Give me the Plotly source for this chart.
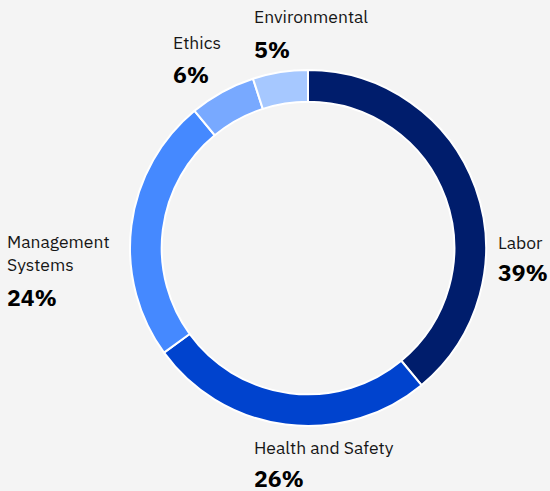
import plotly.graph_objects as go

# ESG audit findings share by category
categories = ["Labor", "Health and Safety", "Management Systems", "Ethics", "Environmental"]
display_names = ["Labor", "Health and Safety", "Management<br>Systems", "Ethics", "Environmental"]
shares = [39, 26, 24, 6, 5]
colors = ["#001d6c", "#0043ce", "#4589ff", "#78a9ff", "#a6c8ff"]

W, H = 550, 491
# label anchor positions in pixels (left x, name centre y, pct centre y)
label_pos = [
    (496, 242, 272),
    (252, 447, 478),
    (5, 253, 297),
    (171, 42, 74),
    (252, 17, 49),
]

cx, cy, r = 308, 248, 178
font = "IBM Plex Sans, Noto Sans, sans-serif"

fig = go.Figure(go.Pie(
    labels=categories,
    values=shares,
    sort=False,
    direction="clockwise",
    rotation=0,
    hole=0.822,
    marker=dict(colors=colors, line=dict(color="white", width=2)),
    textinfo="none",
    hoverinfo="label+percent",
    showlegend=False,
    domain=dict(x=[(cx - r) / W, (cx + r) / W],
                y=[(H - cy - r) / H, (H - cy + r) / H]),
))

annotations = []
for name, val, (lx, ny, py) in zip(display_names, shares, label_pos):
    annotations.append(dict(
        x=lx / W, y=1 - ny / H, xref="paper", yref="paper",
        xanchor="left", yanchor="middle", align="left",
        text=name, showarrow=False,
        font=dict(family=font, size=17.5, color="#161616"),
    ))
    annotations.append(dict(
        x=lx / W, y=1 - py / H, xref="paper", yref="paper",
        xanchor="left", yanchor="middle", align="left",
        text=f"<b>{val}%</b>", showarrow=False,
        font=dict(family=font, size=23, color="#000000"),
    ))

fig.update_layout(
    width=W, height=H,
    margin=dict(l=0, r=0, t=0, b=0),
    paper_bgcolor="#f4f4f4",
    plot_bgcolor="#f4f4f4",
    annotations=annotations,
)

fig.write_html("out.html", config={"displayModeBar": False},
               post_script="document.body.style.margin='0';")
